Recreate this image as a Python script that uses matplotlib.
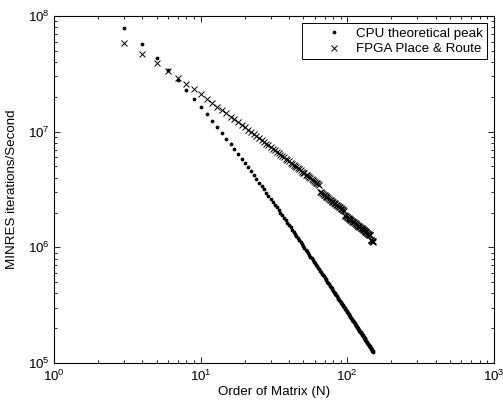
import matplotlib
matplotlib.use("Agg")
import matplotlib.pyplot as plt
from matplotlib.ticker import LogLocator, NullFormatter

plt.rcParams['font.family'] = ['Liberation Sans', 'DejaVu Sans']
plt.rcParams['mathtext.fontset'] = 'custom'
plt.rcParams['mathtext.rm'] = 'Liberation Sans'
plt.rcParams['mathtext.default'] = 'regular'

# ---- data ----
order_n = list(range(3, 151))

cpu_peak_millions = [
    79.1, 57.3, 43.6, 34.3, 27.8, 23.0, 19.3, 16.5,                 # 3-10
    14.26, 12.44, 10.95, 9.72, 8.68, 7.81, 7.06, 6.41, 5.85, 5.36,  # 11-20
    4.93, 4.54, 4.21, 3.90, 3.63, 3.39, 3.17, 2.97, 2.79, 2.63,     # 21-30
    2.48, 2.34, 2.21, 2.10, 1.99, 1.89, 1.80, 1.71, 1.63, 1.557,    # 31-40
    1.488, 1.423, 1.362, 1.306, 1.252, 1.202, 1.155, 1.111, 1.069, 1.029,  # 41-50
    0.992, 0.956, 0.923, 0.891, 0.861, 0.832, 0.805, 0.779, 0.754, 0.730,  # 51-60
    0.708, 0.687, 0.666, 0.646, 0.628, 0.610, 0.593, 0.576, 0.560, 0.545,  # 61-70
    0.531, 0.517, 0.503, 0.490, 0.478, 0.466, 0.455, 0.443, 0.433, 0.422,  # 71-80
    0.413, 0.403, 0.394, 0.385, 0.376, 0.368, 0.360, 0.352, 0.344, 0.337,  # 81-90
    0.330, 0.323, 0.316, 0.310, 0.304, 0.298, 0.292, 0.286, 0.280, 0.275,  # 91-100
    0.270, 0.265, 0.260, 0.255, 0.250, 0.246, 0.241, 0.237, 0.233, 0.229,  # 101-110
    0.225, 0.221, 0.217, 0.213, 0.210, 0.206, 0.203, 0.200, 0.196, 0.193,  # 111-120
    0.190, 0.187, 0.184, 0.181, 0.178, 0.176, 0.173, 0.170, 0.168, 0.165,  # 121-130
    0.163, 0.160, 0.158, 0.156, 0.154, 0.151, 0.149, 0.147, 0.145, 0.143,  # 131-140
    0.141, 0.139, 0.137, 0.135, 0.134, 0.132, 0.130, 0.128, 0.127, 0.125,  # 141-150
]

fpga_pr_millions = [
    59.0, 47.0, 39.1, 33.4, 29.2, 25.9, 23.2, 21.1,                 # 3-10
    19.3, 17.8, 16.5, 15.4, 14.4, 13.5, 12.8, 12.1, 11.5, 10.9,     # 11-20
    10.4, 9.96, 9.54, 9.15, 8.79, 8.46, 8.16, 7.87, 7.60, 7.35,     # 21-30
    7.12, 6.90, 6.69, 6.50, 6.32, 6.14, 5.98, 5.82, 5.67, 5.53,     # 31-40
    5.40, 5.27, 5.15, 5.03, 4.92, 4.82, 4.71, 4.62, 4.52, 4.43,     # 41-50
    4.35, 4.26, 4.18, 4.10, 4.03, 3.96, 3.89, 3.82, 3.76, 3.69,     # 51-60
    3.63, 3.57, 3.52, 3.46,                                         # 61-64
    3.03, 2.99, 2.94, 2.90, 2.86, 2.81,                             # 65-70
    2.77, 2.74, 2.70, 2.66, 2.63, 2.59, 2.56, 2.52, 2.49, 2.46,     # 71-80
    2.43, 2.40, 2.37, 2.34, 2.32, 2.29, 2.26, 2.24, 2.21, 2.19,     # 81-90
    2.16, 2.14, 2.12, 2.09, 2.07,                                   # 91-95
    1.899, 1.879, 1.860, 1.841, 1.823,                              # 96-100
    1.805, 1.787, 1.769, 1.752, 1.735, 1.719, 1.703, 1.687, 1.671, 1.656,  # 101-110
    1.641, 1.626, 1.612, 1.597, 1.583, 1.570, 1.556, 1.543, 1.530, 1.517,  # 111-120
    1.504, 1.492, 1.479, 1.467, 1.456, 1.444, 1.432, 1.421, 1.410, 1.399,  # 121-130
    1.388, 1.378, 1.367, 1.357, 1.347, 1.337, 1.327, 1.317, 1.308, 1.298,  # 131-140
    1.289, 1.280, 1.271,                                            # 141-143
    1.164, 1.156, 1.148, 1.140, 1.132, 1.124, 1.117,                # 144-150
]

cpu_peak = [v * 1e6 for v in cpu_peak_millions]
fpga_pr = [v * 1e6 for v in fpga_pr_millions]

series_labels = ["CPU theoretical peak", "FPGA Place & Route"]
x_label = "Order of Matrix (N)"
y_label = "MINRES iterations/Second"

FS = 9.6

# ---- figure ----
fig = plt.figure(figsize=(5.03, 4.05), dpi=100)
ax = fig.add_axes([54 / 503, 1 - 363 / 405, 440 / 503, 347 / 405])

ax.plot(order_n, cpu_peak, linestyle='none', marker='.', markersize=3.4,
        color='black', label=series_labels[0])
ax.plot(order_n, fpga_pr, linestyle='none', marker='x', markersize=4.6,
        markeredgewidth=0.7, color='black', label=series_labels[1])

ax.set_xscale('log')
ax.set_yscale('log')
ax.set_xlim(1, 1000)
ax.set_ylim(1e5, 1e8)

ax.xaxis.set_major_locator(LogLocator(base=10, numticks=10))
ax.yaxis.set_major_locator(LogLocator(base=10, numticks=10))
ax.xaxis.set_minor_locator(LogLocator(base=10, subs=range(2, 10), numticks=20))
ax.yaxis.set_minor_locator(LogLocator(base=10, subs=range(2, 10), numticks=20))
ax.xaxis.set_minor_formatter(NullFormatter())
ax.yaxis.set_minor_formatter(NullFormatter())

ax.tick_params(which='both', direction='in', top=True, right=True,
               labelsize=FS, width=0.6)
ax.tick_params(which='major', length=4.5)
ax.tick_params(which='minor', length=2.5)
ax.tick_params(axis='x', pad=4)
ax.tick_params(axis='y', pad=3)
for sp in ax.spines.values():
    sp.set_linewidth(0.8)

ax.set_xlabel(x_label, fontsize=FS, labelpad=1.5)
ax.set_ylabel(y_label, fontsize=FS, labelpad=7)

leg = ax.legend(loc='upper right', fontsize=FS, frameon=True, fancybox=False,
                edgecolor='black', framealpha=1, borderpad=0.3, numpoints=1,
                handlelength=4.2, handletextpad=-0.5, labelspacing=0.25,
                borderaxespad=0.55, markerscale=1.0)
leg.get_frame().set_linewidth(0.7)

fig.savefig("out.png", dpi=100)
